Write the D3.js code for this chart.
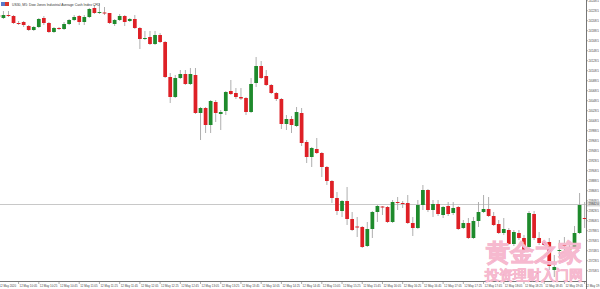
<!DOCTYPE html>
<html>
<head>
  <meta charset="utf-8">
  <title>US30 M5</title>
  <script src="https://cdn.jsdelivr.net/npm/d3@7"></script>
  <style>
    body { margin: 0; background: #fff; }
    svg { display: block; }
    text { font-family: "Liberation Sans", Arial, sans-serif; }
  </style>
</head>
<body>
<script>
// --- data: 12 May 2020, M5 bars (prices) ---
var opens  = [24220,24214,24220,24218,24204,24206,24198,24190,24196,24214,24204,24186,24194,24192,24202,24210,24218,24206,24216,24234,
              24224,24225,24224,24202,24210,24218,24208,24212,24194,24172,24176,24162,24180,24166,24096,24056,24094,24102,24082,24100,
              24024,24034,24000,24046,24022,24028,24068,24064,24056,24054,24026,24084,24118,24098,24080,24064,24052,24002,24012,23998,
              24024,23966,23936,23952,23944,23916,23888,23854,23828,23848,23812,23797,23796,23758,23792,23826,23837,23836,23806,23846,
              23844,23844,23804,23794,23840,23870,23830,23842,23820,23838,23824,23836,23794,23804,23774,23808,23826,23832,23818,23802,
              23784,23790,23762,23784,23774,23756,23822,23774,23766,23766,23710,23748,23760,23750,23756,23784,23814];
var highs  = [24224,24228,24228,24220,24208,24208,24200,24198,24214,24218,24206,24196,24196,24206,24212,24220,24220,24220,24234,24240,
              24244,24236,24224,24212,24222,24220,24214,24220,24196,24188,24188,24188,24184,24168,24104,24100,24110,24110,24114,24114,
              24036,24036,24050,24050,24030,24068,24090,24074,24074,24056,24094,24136,24128,24110,24082,24066,24054,24020,24018,24036,
              24034,23970,23956,23974,23946,23918,23890,23866,23850,23876,23826,23816,23798,23806,23828,23840,23838,23838,23850,23856,
              23848,23860,23816,23850,23880,23872,23850,23850,23838,23846,23846,23838,23810,23814,23816,23846,23860,23856,23826,23810,
              23814,23794,23790,23790,23780,23828,23828,23786,23770,23774,23740,23770,23776,23762,23798,23864,23846];
var lows   = [24214,24212,24216,24202,24200,24196,24188,24188,24194,24200,24184,24184,24190,24190,24200,24208,24200,24200,24214,24222,
              24222,24220,24202,24198,24208,24198,24206,24192,24152,24170,24160,24160,24164,24094,24044,24054,24092,24080,24080,24022,
              23970,23984,23984,24006,23990,24020,24060,24052,24050,24020,24024,24076,24092,24078,24062,24048,23992,23990,23984,23996,
              23958,23924,23916,23942,23896,23880,23844,23820,23816,23800,23788,23776,23754,23756,23774,23806,23820,23804,23804,23830,
              23834,23802,23778,23792,23830,23826,23816,23818,23814,23818,23820,23790,23792,23772,23772,23796,23824,23816,23798,23782,
              23780,23760,23758,23770,23744,23754,23770,23760,23758,23710,23696,23734,23750,23746,23754,23782,23794];
var closes = [24216,24220,24218,24204,24203,24200,24190,24196,24212,24204,24186,24194,24192,24202,24210,24216,24206,24216,24232,24224,
              24226,24223,24204,24210,24218,24206,24212,24194,24172,24174,24162,24180,24166,24096,24056,24094,24102,24082,24102,24024,
              24034,24000,24048,24024,24026,24066,24062,24056,24053,24026,24082,24118,24094,24080,24064,24052,24002,24012,24000,24026,
              23964,23936,23954,23944,23916,23888,23854,23828,23848,23812,23790,23795,23756,23792,23826,23838,23835,23806,23846,23844,
              23842,23804,23794,23840,23870,23830,23842,23822,23836,23822,23834,23792,23804,23774,23808,23826,23832,23818,23800,23784,
              23792,23762,23786,23774,23746,23824,23774,23764,23760,23718,23716,23750,23758,23756,23784,23840,23812];

var timeLabels = ["12 May 2020","12 May 10:05","12 May 10:25","12 May 10:45","12 May 11:05","12 May 11:25","12 May 11:45",
                  "12 May 12:05","12 May 12:25","12 May 12:45","12 May 13:05","12 May 13:25","12 May 13:45","12 May 14:05",
                  "12 May 14:25","12 May 14:45","12 May 15:05","12 May 15:25","12 May 15:45","12 May 16:05","12 May 16:25",
                  "12 May 16:45","12 May 17:05","12 May 17:25","12 May 17:45","12 May 18:05","12 May 18:25","12 May 18:45",
                  "12 May 19:05","12 May 19:25"];
var labelEvery = 4;          // one time label every 4 bars
var priceTicks = d3.range(24248.5, 23700, -20);
var bidPrice = 23842;
var title = "US30, M5:  Dow Jones Industrial Average Cash Index CFD";

var W = 600, H = 289;
var plotRight = 586, plotBottom = 281;
var fs = 2.9;   // MT4 tiny axis font

var svg = d3.select("body").append("svg")
            .attr("width", W)
            .attr("height", H);

var bars = opens.map(function(o, i) {
  return {i: i, o: o, h: highs[i], l: lows[i], c: closes[i]};
});

var x = d3.scaleBand()
          .domain(d3.range(bars.length))
          .range([-3.5, plotRight + 0.5])
          .paddingInner(0.26);

var y = d3.scaleLinear()
          .domain([24250, 23688])
          .range([0, plotBottom]);

var plot = svg.append("g");
plot.append("clipPath").attr("id", "clip")
    .append("rect").attr("x", 0).attr("y", 0).attr("width", plotRight).attr("height", plotBottom);
var area = plot.append("g").attr("clip-path", "url(#clip)");

// bid line
area.append("line")
    .attr("x1", 0).attr("x2", plotRight)
    .attr("y1", Math.round(y(bidPrice)) + 0.5).attr("y2", Math.round(y(bidPrice)) + 0.5)
    .attr("stroke", "#c8c8c8").attr("stroke-width", 1);

// candles
var candle = area.selectAll(".bar").data(bars).enter().append("g");

candle.append("line")
      .attr("x1", function(d) { return x(d.i) + x.bandwidth() / 2; })
      .attr("x2", function(d) { return x(d.i) + x.bandwidth() / 2; })
      .attr("y1", function(d) { return y(d.h); })
      .attr("y2", function(d) { return y(d.l); })
      .attr("stroke", "#a6a6a6")
      .attr("stroke-width", 0.9);

candle.append("rect")
      .attr("x", function(d) { return x(d.i); })
      .attr("width", x.bandwidth())
      .attr("y", function(d) { return y(Math.max(d.o, d.c)); })
      .attr("height", function(d) { return Math.max(1, Math.abs(y(d.o) - y(d.c))); })
      .attr("fill", function(d) { return d.c >= d.o ? "#1e8a2c" : "#de2026"; });

// axes (MT4 style)
svg.append("line")
   .attr("x1", plotRight + 0.5).attr("x2", plotRight + 0.5)
   .attr("y1", 0).attr("y2", H)
   .attr("stroke", "#777");
svg.append("line")
   .attr("x1", 0).attr("x2", plotRight)
   .attr("y1", plotBottom + 0.5).attr("y2", plotBottom + 0.5)
   .attr("stroke", "#777");

var yt = svg.selectAll(".ytick").data(priceTicks).enter().append("g")
            .attr("transform", function(d) { return "translate(" + plotRight + "," + y(d) + ")"; });
yt.append("line").attr("x1", 0).attr("x2", 2).attr("stroke", "#777").attr("stroke-width", 0.6);
yt.append("text")
  .attr("x", 2.5).attr("dy", "0.35em")
  .attr("font-size", fs).attr("fill", "#444")
  .text(function(d) { return d.toFixed(1); });

// bid price label
svg.append("rect")
   .attr("x", plotRight + 1).attr("y", y(bidPrice) - 2.5)
   .attr("width", 13).attr("height", 5)
   .attr("fill", "#d9d9d9");
svg.append("text")
   .attr("x", plotRight + 2.5).attr("y", y(bidPrice)).attr("dy", "0.35em")
   .attr("font-size", fs).attr("fill", "#333")
   .text(bidPrice.toFixed(1));

var xt = svg.selectAll(".xtick").data(timeLabels).enter().append("g")
            .attr("transform", function(d, k) {
              return "translate(" + (x(k * labelEvery) + x.bandwidth() / 2) + "," + plotBottom + ")"; });
xt.append("line").attr("y1", 0).attr("y2", 3).attr("stroke", "#777").attr("stroke-width", 0.6);
xt.append("text")
  .attr("x", 1).attr("y", 5.5)
  .attr("font-size", fs).attr("fill", "#444")
  .text(function(d) { return d; });

// title with small icon
svg.append("rect").attr("x", 1).attr("y", 2).attr("width", 4).attr("height", 4).attr("fill", "#5b79c9");
svg.append("rect").attr("x", 5).attr("y", 2).attr("width", 4).attr("height", 4).attr("fill", "#d9342b");
svg.append("text")
   .attr("x", 12).attr("y", 5.5)
   .attr("font-size", 3.4).attr("fill", "#333")
   .text(title);

// watermark
svg.append("text")
   .attr("x", 534).attr("y", 261)
   .attr("text-anchor", "middle")
   .attr("font-family", "Noto Sans CJK SC")
   .attr("font-weight", "bold")
   .attr("font-size", 24)
   .attr("fill", "#ec6f9c").attr("fill-opacity", 0.85)
   .attr("stroke", "#f6b9cf").attr("stroke-width", 0.8)
   .text("黄金之家");
svg.append("text")
   .attr("x", 534).attr("y", 280)
   .attr("text-anchor", "middle")
   .attr("font-family", "Noto Sans CJK SC")
   .attr("font-weight", "bold")
   .attr("font-size", 14)
   .attr("fill", "#ec6f9c").attr("fill-opacity", 0.85)
   .attr("stroke", "#f6b9cf").attr("stroke-width", 0.6)
   .text("投资理财入门网");
</script>
</body>
</html>
